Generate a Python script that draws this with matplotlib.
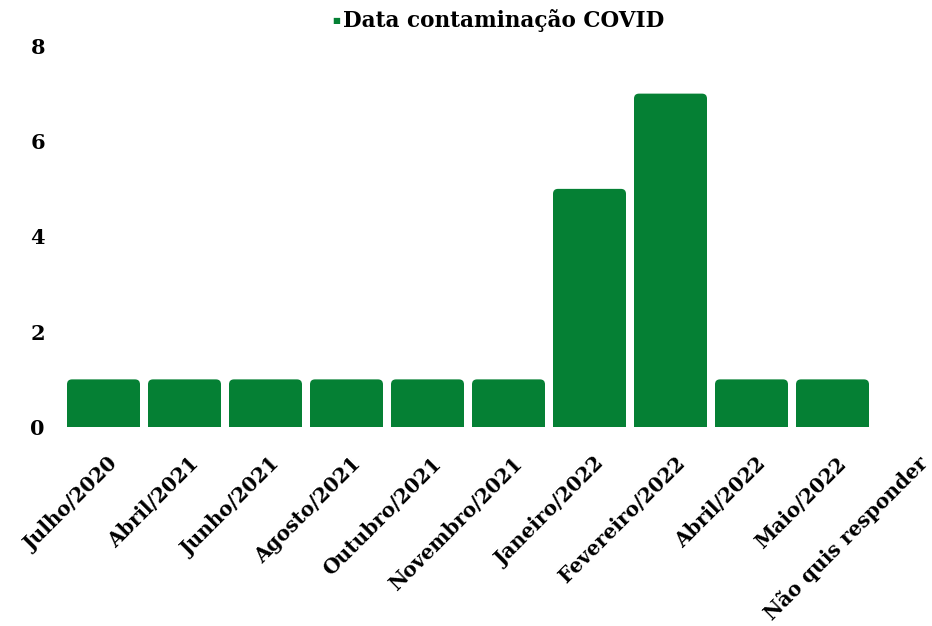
import matplotlib
matplotlib.use("Agg")
import matplotlib.pyplot as plt
from matplotlib.patches import FancyBboxPatch, Rectangle
from matplotlib.transforms import ScaledTranslation
import numpy as np

categories = ["Julho/2020", "Abril/2021", "Junho/2021", "Agosto/2021", "Outubro/2021",
              "Novembro/2021", "Janeiro/2022", "Fevereiro/2022", "Abril/2022", "Maio/2022",
              "Não quis responder"]
values = [1, 1, 1, 1, 1, 1, 5, 7, 1, 1, 0]
y_ticks = [0, 2, 4, 6, 8]
series_name = "Data contaminação COVID"
color = "#058034"

W, H = 932, 626
fig = plt.figure(figsize=(W / 100, H / 100), dpi=100)
ax_left, ax_right, ax_top, ax_bottom = 63, 932, 46, 427
ax = fig.add_axes([ax_left / W, 1 - ax_bottom / H, (ax_right - ax_left) / W, (ax_bottom - ax_top) / H])

px_per_cat = 81.0
xmax = -0.5 + (ax_right - ax_left) / px_per_cat
ax.set_xlim(-0.5, xmax)
ax.set_ylim(0, 8)

font = dict(family=["DejaVu Serif"], weight="bold")
x = np.arange(len(categories))
bars = ax.bar(x, values, width=73 / 81, color=color, alpha=0)

px_per_y = (ax_bottom - ax_top) / 8.0
r_px = 5
aspect = (1 / px_per_y) / (1 / px_per_cat)
for b in bars:
    h = b.get_height()
    if h <= 0:
        continue
    bx, bw = b.get_x(), b.get_width()
    p = FancyBboxPatch((bx, 0), bw, h,
                       boxstyle=f"round,pad=0,rounding_size={r_px / px_per_cat}",
                       mutation_aspect=aspect, facecolor=color, edgecolor="none")
    ax.add_patch(p)
    ax.add_patch(Rectangle((bx, 0), bw, h / 2, facecolor=color, edgecolor="none"))

for s in ax.spines.values():
    s.set_visible(False)
ax.set_yticks(y_ticks)
ax.set_yticklabels([str(v) for v in y_ticks], fontsize=15, **font)
ax.tick_params(axis="y", length=0, pad=13)
ax.set_xticks(x)
ax.set_xticklabels(categories, rotation=45, ha="right", va="center", rotation_mode="anchor",
                   fontsize=14.5, **font)
ax.tick_params(axis="x", length=0, pad=24)
off = ScaledTranslation(11 / 100, 0, fig.dpi_scale_trans)
for lbl in ax.get_xticklabels():
    lbl.set_transform(lbl.get_transform() + off)

# legend
fig.text(336 / W, 1 - 20 / H, "■", color=color, fontsize=6, ha="center", va="center")
fig.text(343 / W, 1 - 20 / H, series_name, fontsize=15.5, ha="left", va="center", **font)

fig.savefig("out.png", dpi=100)
